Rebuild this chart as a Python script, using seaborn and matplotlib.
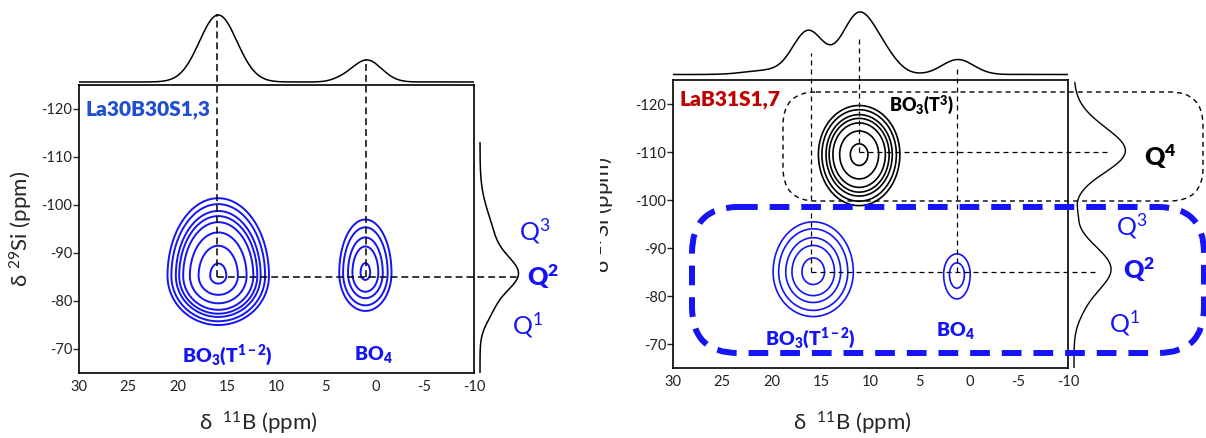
import numpy as np
import matplotlib
matplotlib.use("Agg")
import matplotlib.pyplot as plt
import seaborn as sns
from matplotlib.patches import FancyBboxPatch
from matplotlib.transforms import Bbox, TransformedBbox

# ---- values ----
b_ticks = [30, 25, 20, 15, 10, 5, 0, -5, -10]
si_ticks = [-120, -110, -100, -90, -80, -70]

# 2D peaks (11B ppm, 29Si ppm, amplitude, width x, width y up, width y down)
left_x = [15.9, 1.0]
left_y = [-85.2, -85.8]
left_amp = [1.0, 0.22]
left_sx = [2.0, 1.4]
left_sy_up = [6.3, 5.9]
left_sy_down = [4.0, 4.2]

right_blue_x = [15.8, 1.25]
right_blue_y = [-85.0, -84.5]
right_blue_amp = [0.24, 0.075]
right_blue_sx = [2.1, 1.13]
right_blue_sy_up = [5.4, 3.6]
right_blue_sy_down = [4.8, 4.3]

right_black_x = [11.15]
right_black_y = [-109.5]
right_black_amp = [0.7]
right_black_sx = [1.7]
right_black_sy_up = [4.2]
right_black_sy_down = [4.4]

contour_levels = [0.037, 0.06, 0.1, 0.142, 0.207, 0.357, 0.61, 0.92]

# 1D projections (position, height, width)
top_left_pos = [15.9, 0.85, 3.5]
top_left_amp = [67, 22, 2]
top_left_w = [1.9, 1.5, 1.0]

top_right_pos = [20.5, 16.3, 11.2, 8.5, 1.15]
top_right_amp = [4, 43, 60, 14, 15]
top_right_w = [2.2, 1.55, 1.7, 1.4, 1.6]

side_left_pos = [-85.3, -93.0, -78.0]
side_left_amp = [33, 13, 9]
side_left_w = [3.6, 5.5, 3.0]

side_right_pos = [-115.0, -109.6, -97.0, -85.6, -77.0]
side_right_amp = [12, 46, 2, 37, 4]
side_right_w = [4.0, 4.2, 1.5, 4.6, 3.0]

# ---- build spectra ----
b_axis = np.linspace(30, -10, 401)
si_axis = np.linspace(-125, -65, 301)
X, Y = np.meshgrid(b_axis, si_axis)


def surface(xs, ys, amps, sxs, sus, sds):
    Z = np.zeros_like(X)
    for x0, y0, a, sx, su, sd in zip(xs, ys, amps, sxs, sus, sds):
        sy = np.where(Y < y0, su, sd)
        Z += a * np.exp(-0.5 * ((X - x0) / sx) ** 2 - 0.5 * ((Y - y0) / sy) ** 2)
    return Z


def proj(axis, pos, amp, w):
    out = np.zeros_like(axis)
    for p, a, s in zip(pos, amp, w):
        out += a * np.exp(-0.5 * ((axis - p) / s) ** 2)
    return out


Z_left = surface(left_x, left_y, left_amp, left_sx, left_sy_up, left_sy_down)
Z_rblue = surface(right_blue_x, right_blue_y, right_blue_amp, right_blue_sx,
                  right_blue_sy_up, right_blue_sy_down)
Z_rblack = surface(right_black_x, right_black_y, right_black_amp, right_black_sx,
                   right_black_sy_up, right_black_sy_down)

top_left = proj(b_axis, top_left_pos, top_left_amp, top_left_w)
top_right = proj(b_axis, top_right_pos, top_right_amp, top_right_w)
si_left = np.linspace(-113, -65, 241)
si_right = np.linspace(-124.5, -65, 301)
side_left = proj(si_left, side_left_pos, side_left_amp, side_left_w)
side_right = proj(si_right, side_right_pos, side_right_amp, side_right_w)

# ---- style ----
sns.set_style("ticks")
plt.rcParams['font.family'] = ['Lato', 'DejaVu Sans']
plt.rcParams['mathtext.fontset'] = 'custom'
plt.rcParams['mathtext.rm'] = 'Lato'
plt.rcParams['mathtext.bf'] = 'Lato:heavy'
plt.rcParams['mathtext.it'] = 'Lato:italic'
plt.rcParams['axes.unicode_minus'] = False

W, H = 1206, 438
fig = plt.figure(figsize=(W / 100, H / 100), dpi=100)


def frac(x0, y0, x1, y1):
    return [x0 / W, 1 - y1 / H, (x1 - x0) / W, (y1 - y0) / H]


BLUE = '#1414f5'
LBLUE = '#1f4fd0'
RED = '#c00000'
BO3_LABEL = r'BO$_\mathbf{3}$(T$^\mathbf{1-2}$)'
BO4_LABEL = r'BO$_\mathbf{4}$'
T3_LABEL = r'BO$_\mathbf{3}$(T$^\mathbf{3}$)'


def setup_main(ax):
    ax.set_xlim(30, -10)
    ax.set_ylim(-65, -125)
    ax.set_xticks(b_ticks)
    ax.set_yticks(si_ticks)
    ax.tick_params(axis='x', length=0, pad=5, labelsize=10.5, labelcolor='#222222')
    ax.tick_params(axis='y', length=4, width=1, direction='out', pad=1,
                   labelsize=10.5, labelcolor='#222222')
    for s in ax.spines.values():
        s.set_linewidth(1.2)
        s.set_color('black')
        s.set_visible(True)
    ax.set_xlabel(r'δ  $^{11}$B (ppm)', fontsize=16)
    ax.set_ylabel(r'δ $^{29}$Si (ppm)', fontsize=16)


def setup_proj(ax):
    ax.axis('off')


# ================= left panel =================
axL = fig.add_axes(frac(79, 85, 474, 372.6))
setup_main(axL)
axL.xaxis.set_label_coords(0.453, -0.13)
axL.yaxis.set_label_coords(-0.112, 0.5)
axL.contour(b_axis, si_axis, Z_left, levels=contour_levels, colors=BLUE, linewidths=1.4)

axLt = fig.add_axes(frac(79, 8, 474, 85))
sns.lineplot(x=b_axis, y=top_left, ax=axLt, color='black', lw=1.1)
axLt.set_xlim(30, -10)
axLt.set_ylim(-3, 74)
setup_proj(axLt)

axLs = fig.add_axes(frac(474, 85, 534, 372.6))
sns.lineplot(x=side_left, y=si_left, ax=axLs, color='black', lw=1.1,
             orient='y', sort=False, estimator=None)
axLs.set_ylim(-65, -125)
axLs.set_xlim(-6, 54)
setup_proj(axLs)

dl = dict(color='black', lw=1.1, ls=(0, (4.5, 2.6)), clip_on=False, zorder=5)
axL.plot([16, 16], [-85, -139.8], **dl)
axL.plot([0.9, 0.9], [-85, -130.4], **dl)
axL.plot([16, -14.5], [-85, -85], **dl)

axL.text(29.3, -119.8, 'La30B30S1,3', color=LBLUE, fontsize=15, fontweight='heavy',
         ha='left', va='center')
axL.text(15.0, -68.7, BO3_LABEL, color=BLUE, fontsize=14, fontweight='heavy',
         ha='center', va='center')
axL.text(0.2, -68.7, BO4_LABEL, color=BLUE, fontsize=14, fontweight='heavy',
         ha='center', va='center')

# ================= right panel =================
axR = fig.add_axes(frac(673, 80, 1068, 368))
setup_main(axR)
axR.xaxis.set_label_coords(0.453, -0.145)
axR.yaxis.set_label_coords(-0.142, 0.53)
lab = axR.yaxis.label
lab.set_clip_box(TransformedBbox(Bbox([[600 / W, 0], [1, 1]]), fig.transFigure))
lab.set_clip_on(True)
axR.contour(b_axis, si_axis, Z_rblack, levels=contour_levels, colors='black', linewidths=1.2)
axR.contour(b_axis, si_axis, Z_rblue, levels=contour_levels, colors=BLUE, linewidths=1.2)

axRt = fig.add_axes(frac(673, 4, 1068, 80))
sns.lineplot(x=b_axis, y=top_right, ax=axRt, color='black', lw=1.1)
axRt.set_xlim(30, -10)
axRt.set_ylim(-5.5, 70.5)
setup_proj(axRt)

axRs = fig.add_axes(frac(1068, 80, 1128, 368))
sns.lineplot(x=side_right, y=si_right, ax=axRs, color='black', lw=1.0,
             orient='y', sort=False, estimator=None)
axRs.set_ylim(-65, -125)
axRs.set_xlim(-6, 54)
setup_proj(axRs)

dr = dict(color='black', lw=0.9, ls=(0, (4, 3.2)), clip_on=False, zorder=5)
axR.plot([16, 16], [-85, -130.6], **dr)
axR.plot([11.15, 11.15], [-110, -133.5], **dr)
axR.plot([1.2, 1.2], [-85, -127.5], **dr)
axR.plot([11.15, -14.3], [-110, -110], **dr)
axR.plot([16, -12.8], [-85, -85], **dr)

axR.text(29.3, -121.0, 'LaB31S1,7', color=RED, fontsize=15, fontweight='heavy',
         ha='left', va='center')
axR.text(4.8, -119.8, T3_LABEL, color='black', fontsize=13, fontweight='heavy',
         ha='center', va='center')
axR.text(16.1, -71.3, BO3_LABEL, color=BLUE, fontsize=14, fontweight='heavy',
         ha='center', va='center')
axR.text(1.4, -72.9, BO4_LABEL, color=BLUE, fontsize=14, fontweight='heavy',
         ha='center', va='center')

# ================= overlay: boxes and Q labels =================
ov = fig.add_axes([0, 0, 1, 1])
ov.set_xlim(0, W)
ov.set_ylim(H, 0)
ov.axis('off')

ov.add_patch(FancyBboxPatch((783, 92), 1203 - 783, 201 - 92,
                            boxstyle='round,pad=0,rounding_size=33',
                            fill=False, ec='black', lw=1.0, ls=(0, (3.6, 2.9))))
ov.add_patch(FancyBboxPatch((692, 207), 1204 - 692, 353 - 207,
                            boxstyle='round,pad=0,rounding_size=46',
                            fill=False, ec=BLUE, lw=4.3, ls=(0, (3.3, 2.0))))

qk = dict(ha='center', va='center', fontsize=18)
ov.text(535, 231, r'Q$^3$', color=BLUE, **qk)
ov.text(543, 277, r'$\mathbf{Q^2}$', color=BLUE, **qk)
ov.text(528, 325, r'Q$^1$', color=BLUE, **qk)
ov.text(1160, 157, r'$\mathbf{Q^4}$', color='black', **qk)
ov.text(1132, 226, r'Q$^3$', color=BLUE, **qk)
ov.text(1139, 270, r'$\mathbf{Q^2}$', color=BLUE, **qk)
ov.text(1125, 323, r'Q$^1$', color=BLUE, **qk)

fig.savefig('out.png', dpi=100)
